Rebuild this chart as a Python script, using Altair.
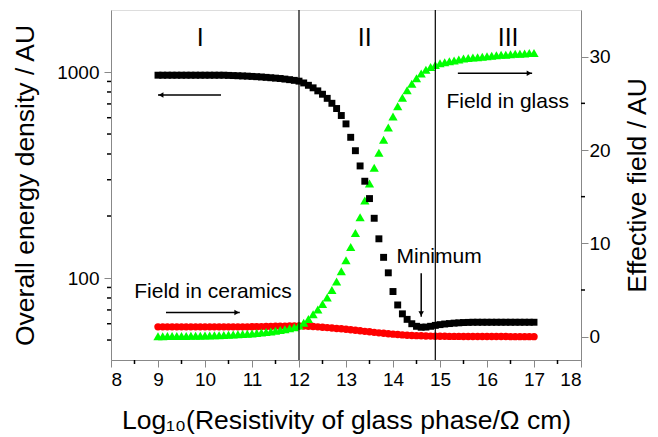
import altair as alt
import pandas as pd

# ---------------- data ----------------
x_vals = [round(9.0 + 0.1 * i, 1) for i in range(81)]

energy_density = [
    965, 965, 965, 965, 965, 965, 965, 965, 965, 965,      # 9.0-9.9
    965, 965, 965, 965, 965, 963, 961, 959, 957, 955,      # 10.0-10.9
    952, 949, 946, 942, 938, 934, 930, 924, 918, 911,      # 11.0-11.9
    903, 885, 862, 838, 810, 780, 745, 705, 665, 615,      # 12.0-12.9
    560, 482, 415, 350, 295, 243, 195, 155, 126, 106,      # 13.0-13.9
    86, 74, 67, 63, 60, 58.3, 57.7, 57.8, 58.3, 58.9,      # 14.0-14.9
    59.4, 59.8, 60.1, 60.4, 60.6, 60.8, 60.9, 61, 61, 61,  # 15.0-15.9
    61, 61, 61, 61, 61, 61, 61, 61, 61, 61,                # 16.0-16.9
    61,                                                    # 17.0
]

field_ceramics = [
    1.05, 1.05, 1.05, 1.05, 1.05, 1.05, 1.05, 1.05, 1.05, 1.05,
    1.05, 1.05, 1.05, 1.05, 1.05, 1.05, 1.05, 1.05, 1.05, 1.05,
    1.06, 1.07, 1.08, 1.09, 1.10, 1.11, 1.12, 1.13, 1.14, 1.15,
    1.15, 1.14, 1.12, 1.09, 1.05, 1.01, 0.97, 0.93, 0.88, 0.84,
    0.79, 0.74, 0.68, 0.63, 0.57, 0.52, 0.46, 0.41, 0.36, 0.31,
    0.27, 0.23, 0.19, 0.16, 0.13, 0.11, 0.09, 0.07, 0.06, 0.05,
    0.04, 0.04, 0.03, 0.03, 0.03, 0.02, 0.02, 0.02, 0.02, 0.01,
    0.01, 0.01, 0.01, 0.01, 0.01, 0.0, 0.0, 0.0, 0.0, 0.0,
    0.0,
]

field_glass = [
    0.05, 0.05, 0.06, 0.06, 0.07, 0.07, 0.08, 0.09, 0.10, 0.11,
    0.12, 0.13, 0.15, 0.16, 0.18, 0.20, 0.22, 0.25, 0.28, 0.31,
    0.35, 0.39, 0.44, 0.50, 0.56, 0.63, 0.71, 0.80, 0.90, 1.02,
    1.2, 1.5, 1.9, 2.4, 2.9, 3.5, 4.2, 5.0, 5.9, 7.0,
    8.2, 9.6, 11.1, 12.8, 14.6, 16.4, 18.1, 19.7, 21.1, 22.4,
    23.6, 24.7, 25.6, 26.4, 27.1, 27.7, 28.2, 28.6, 28.9, 29.1,
    29.3, 29.4, 29.5, 29.6, 29.7, 29.8, 29.85, 29.9, 29.95, 30.0,
    30.05, 30.1, 30.15, 30.2, 30.2, 30.25, 30.3, 30.3, 30.35, 30.4,
    30.4,
]

x_major = [8, 9, 10, 11, 12, 13, 14, 15, 16, 17, 18]
x_minor = [8.5, 9.5, 10.5, 11.5, 12.5, 13.5, 14.5, 15.5, 16.5, 17.5]
left_major = [100, 1000]
left_minor = [50, 60, 70, 80, 90, 200, 300, 400, 500, 600, 700, 800, 900]
right_major = [0, 10, 20, 30]
right_minor = [5, 15, 25]

region_bounds = [12.0, 14.9]
region_names = ["I", "II", "III"]
region_name_x = [9.9, 13.4, 16.45]
region_name_y = [31.1, 31.1, 31.1]

note_texts = ["Field in ceramics", "Field in glass", "Minimum"]
note_x = [10.17, 16.44, 14.98]
note_y = [4.1, 24.5, 7.86]

arrow_x = [9.0, 9.17, 15.38, 14.60]
arrow_x2 = [10.34, 10.74, 16.96, 14.60]
arrow_y = [25.9, 2.6, 28.22, 6.8]
arrow_y2 = [25.9, 2.6, 28.22, 2.14]
head_x = [9.065, 10.675, 16.895, 14.60]
head_y = [25.9, 2.6, 28.22, 2.46]
head_shape = ["triangle-left", "triangle-right", "triangle-right", "triangle-down"]

FONT = "Liberation Sans"
W, H = 470, 350
TITLE_SIZE = 26.5
LABEL_SIZE = 19

df = pd.DataFrame({"x": x_vals, "energy": energy_density,
                   "ceramics": field_ceramics, "glass": field_glass})
df_bounds = pd.DataFrame({"b": region_bounds})
df_regions = pd.DataFrame({"x": region_name_x, "y": region_name_y, "t": region_names})
df_notes = pd.DataFrame({"x": note_x, "y": note_y, "t": note_texts})
df_arrows = pd.DataFrame({"x": arrow_x, "x2": arrow_x2, "y": arrow_y, "y2": arrow_y2})
df_heads = pd.DataFrame({"x": head_x, "y": head_y, "s": head_shape})
df_xminor = pd.DataFrame({"v": x_minor})
df_lminor = pd.DataFrame({"v": left_minor})
df_rminor = pd.DataFrame({"v": right_minor})

# ---------------- scales / axes ----------------
x_scale = alt.Scale(domain=[8, 18], nice=False, zero=False)
x_axis = alt.Axis(
    values=x_major, format="d", labelOverlap=False,
    tickSize=7,
    title="Log₁₀(Resistivity of glass phase/Ω cm)",
    titleBaseline="alphabetic", titleY=68, titleFontSize=TITLE_SIZE,
    titleFontWeight="normal",
    labelFontSize=LABEL_SIZE, labelPadding=3, grid=False,
)


def X(field):
    return alt.X(field, scale=x_scale, axis=x_axis)


left_scale = alt.Scale(type="log", domain=[40, 2000], nice=False)
left_axis = alt.Axis(
    orient="left",
    values=left_major, format="d", labelOverlap=False,
    tickSize=7,
    title="Overall energy density / AU",
    titleAngle=270, titleBaseline="alphabetic", titleX=-78,
    titleFontSize=TITLE_SIZE, titleFontWeight="normal",
    labelFontSize=LABEL_SIZE, labelPadding=5, grid=False,
)

right_scale = alt.Scale(domain=[-2.5, 35], nice=False, zero=False)
right_axis = alt.Axis(
    orient="right",
    values=right_major, format="d", labelOverlap=False,
    tickSize=7,
    title="Effective field / AU",
    titleAngle=270, titleBaseline="alphabetic", titleX=64,
    titleFontSize=TITLE_SIZE, titleFontWeight="normal",
    labelFontSize=LABEL_SIZE, labelPadding=1, grid=False,
)


def YL(field):
    return alt.Y(field, scale=left_scale, axis=left_axis)


def YR(field):
    return alt.Y(field, scale=right_scale, axis=right_axis)


# ---------------- left group ----------------
black = alt.Chart(df).mark_point(shape="square", filled=True, size=48,
                                 color="black", opacity=1).encode(
    x=X("x:Q"), y=YL("energy:Q"))
bounds = alt.Chart(df_bounds).mark_rule(color="black", strokeWidth=1.2).encode(
    x=X("b:Q"))
lminor = alt.Chart(df_lminor).mark_rule(color="black", strokeWidth=1.5).encode(
    x=alt.value(0), x2=alt.value(-4), y=YL("v:Q"))
left_group = alt.layer(black, bounds, lminor)

# ---------------- right group ----------------
red = alt.Chart(df).mark_point(shape="circle", filled=True, size=55,
                               color="#FF0000", opacity=1).encode(
    x=X("x:Q"), y=YR("ceramics:Q"))
green = alt.Chart(df).mark_point(shape="triangle-up", filled=True, size=85,
                                 color="#00FF00", opacity=1).encode(
    x=X("x:Q"), y=YR("glass:Q"))
arrows = alt.Chart(df_arrows).mark_rule(color="black", strokeWidth=1.5).encode(
    x=X("x:Q"), x2="x2:Q", y=YR("y:Q"), y2="y2:Q")
heads = alt.Chart(df_heads).mark_point(filled=True, size=30, color="black",
                                       opacity=1).encode(
    x=X("x:Q"), y=YR("y:Q"), shape=alt.Shape("s:N", scale=None, legend=None))
regions = alt.Chart(df_regions).mark_text(
    font=FONT, fontSize=25, align="center", baseline="alphabetic", color="black"
).encode(x=X("x:Q"), y=YR("y:Q"), text="t:N")
notes = alt.Chart(df_notes).mark_text(
    font=FONT, fontSize=21, align="center", baseline="alphabetic", color="black"
).encode(x=X("x:Q"), y=YR("y:Q"), text="t:N")
rminor = alt.Chart(df_rminor).mark_rule(color="black", strokeWidth=1.5).encode(
    x=alt.value(W), x2=alt.value(W + 4), y=YR("v:Q"))
xminor = alt.Chart(df_xminor).mark_rule(color="black", strokeWidth=1.5).encode(
    x=X("v:Q"), y=alt.value(H), y2=alt.value(H + 4))
right_group = alt.layer(red, green, arrows, heads, regions, notes, rminor, xminor)

chart = alt.layer(right_group, left_group).resolve_scale(y="independent").properties(
    width=W, height=H,
    padding={"left": 103, "top": 2, "right": 69, "bottom": 77},
    autosize=alt.AutoSizeParams(type="none"),
).configure_view(
    stroke="black", strokeWidth=2
).configure_axis(
    labelFont=FONT, titleFont=FONT, labelColor="black", titleColor="black",
    titleFontWeight="normal", domainColor="black", domainWidth=2,
    tickColor="black", tickWidth=1.5,
).configure(background="white")

chart.save("out.html", embed_options={"renderer": "svg", "actions": False})
